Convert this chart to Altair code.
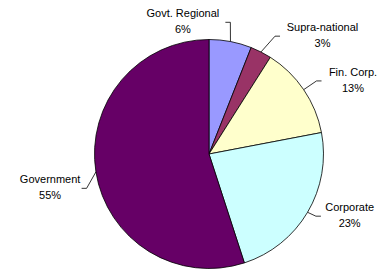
import altair as alt
import pandas as pd

# ---- data ----
categories = ["Govt. Regional", "Supra-national", "Fin. Corp.", "Corporate", "Government"]
shares = [6, 3, 13, 23, 55]
colors = ["#9999FF", "#993366", "#FFFFCC", "#CCFFFF", "#660066"]

df = pd.DataFrame({"category": categories, "share": shares, "order": list(range(len(categories)))})

# ---- layout (pixels) ----
CX, CY, R, RE = 201, 146, 114.5, 130
TAIL, GAP, CHAR = 5, 4, 2.75
FONT = "Liberation Sans"
NUDGE_X = {"Govt. Regional": -3, "Supra-national": 7, "Corporate": -5, "Government": 6}
NUDGE_Y = {"Govt. Regional": -4, "Supra-national": -2, "Corporate": -4, "Government": 14}


def lookup(d):
    expr = "0"
    for k, v in d.items():
        expr = f"(datum.category == '{k}' ? {v} : {expr})"
    return expr


base = (
    alt.Chart(df)
    .transform_window(cum="sum(share)", sort=[alt.SortField("order")], frame=[None, 0])
    .transform_joinaggregate(total="sum(share)")
    .transform_calculate(start="(datum.cum - datum.share) / datum.total * 2 * PI")
    .transform_calculate(end="datum.cum / datum.total * 2 * PI")
    .transform_calculate(mid="(datum.start + datum.end) / 2")
    .transform_calculate(ex=f"{CX} + {R} * sin(datum.mid)")
    .transform_calculate(ey=f"{CY} - {R} * cos(datum.mid)")
    .transform_calculate(bx=f"{CX} + {RE} * sin(datum.mid) + {lookup(NUDGE_X)}")
    .transform_calculate(by=f"{CY} - {RE} * cos(datum.mid) + {lookup(NUDGE_Y)}")
    .transform_calculate(side="datum.category == 'Govt. Regional' ? -1 : (sin(datum.mid) >= 0 ? 1 : -1)")
    .transform_calculate(tx=f"datum.bx + datum.side * {TAIL}")
    .transform_calculate(lx=f"datum.tx + datum.side * ({GAP} + {CHAR} * length(datum.category))")
    .transform_calculate(pct="format(datum.share / datum.total, '.0%')")
)

pie = base.mark_arc(radius=R, stroke="#000000", strokeWidth=0.8).encode(
    theta=alt.Theta("start:Q", scale=None),
    theta2="end:Q",
    color=alt.Color("category:N", scale=alt.Scale(domain=categories, range=colors), legend=None),
    x=alt.value(CX),
    y=alt.value(CY),
)

leader1 = base.mark_rule(color="#000000", strokeWidth=0.8).encode(
    x=alt.X("ex:Q", scale=None, axis=None),
    y=alt.Y("ey:Q", scale=None, axis=None),
    x2="bx:Q",
    y2="by:Q",
)

leader2 = base.mark_rule(color="#000000", strokeWidth=0.8).encode(
    x=alt.X("bx:Q", scale=None, axis=None),
    y=alt.Y("by:Q", scale=None, axis=None),
    x2="tx:Q",
    y2="by:Q",
)

names = base.mark_text(font=FONT, fontSize=11, baseline="middle", align="center", dy=-8, color="#000000").encode(
    x=alt.X("lx:Q", scale=None, axis=None),
    y=alt.Y("by:Q", scale=None, axis=None),
    text="category:N",
)

pcts = base.mark_text(font=FONT, fontSize=11, baseline="middle", align="center", dy=8, color="#000000").encode(
    x=alt.X("lx:Q", scale=None, axis=None),
    y=alt.Y("by:Q", scale=None, axis=None),
    text="pct:N",
)

chart = (
    alt.layer(pie, leader1, leader2, names, pcts)
    .properties(width=374, height=263, padding=0, autosize="none", background="white")
    .configure_view(stroke=None)
)

chart.save("out.html", embed_options={"renderer": "svg", "actions": False})
